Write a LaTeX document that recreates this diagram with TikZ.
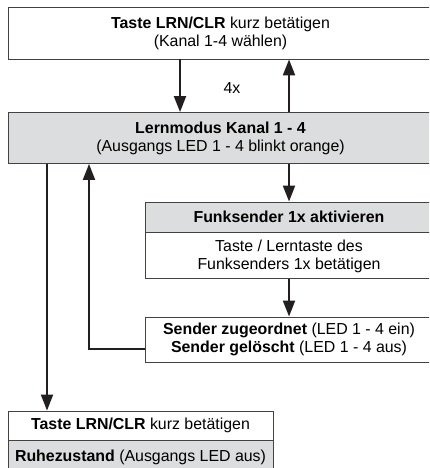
\documentclass[tikz,border=0pt]{standalone}
\usepackage{fontspec}
\setmainfont{Liberation Sans}
\usetikzlibrary{arrows.meta}
\definecolor{boxgrau}{RGB}{220,221,222}
\definecolor{linie}{RGB}{35,31,32}
\tikzset{
  kasten/.style={draw=linie!85, line width=0.9bp, align=center, inner sep=0pt,
    font=\fontsize{15.9bp}{18bp}\selectfont},
  grau/.style={kasten, fill=boxgrau},
  pfeil/.style={draw=linie, line width=2.2bp, -{Triangle[length=16bp, width=12bp]}}
}
\begin{document}
\begin{tikzpicture}[x=1bp, y=-1bp]

    \useasboundingbox (0,0) rectangle (429,468);
    \clip (0,0) rectangle (429,468);

    % boxes
    \node[kasten, minimum width=425bp, minimum height=52bp] (taste) at (220.5,33)
        {\textbf{Taste LRN/CLR} kurz betätigen\\(Kanal 1-4 wählen)};
    \node[grau, minimum width=425bp, minimum height=51bp] (lern) at (220.5,138)
        {\textbf{Lernmodus Kanal 1 - 4}\\(Ausgangs LED 1 - 4 blinkt orange)};
    \node[grau, minimum width=288bp, minimum height=30bp] (funk) at (289,217)
        {\textbf{Funksender 1x aktivieren}};
    \node[kasten, minimum width=288bp, minimum height=46bp, anchor=north] (funktaste) at (funk.south)
        {Taste / Lerntaste des\\Funksenders 1x betätigen};
    \node[kasten, minimum width=288bp, minimum height=45bp] (sender) at (289,339.5)
        {\textbf{Sender zugeordnet} (LED 1 - 4 ein)\\\textbf{Sender gelöscht} (LED 1 - 4 aus)};
    \node[kasten, minimum width=265bp, minimum height=29bp] (ruhetaste) at (140.5,425.5)
        {\textbf{Taste LRN/CLR} kurz betätigen};
    \node[grau, minimum width=265bp, minimum height=32bp, anchor=north] (ruhe) at (ruhetaste.south)
        {\textbf{Ruhezustand} (Ausgangs LED aus)};

    \node[font=\fontsize{15.9bp}{18bp}\selectfont] (vier) at (232,88) {4x};

    % connectors
    \coordinate (runter) at (180,0);
    \coordinate (hoch) at (289,0);
    \coordinate (links) at (47,0);
    \coordinate (knick) at (89,349);

    \draw[pfeil] (taste.south -| runter) -- (lern.north -| runter);
    \draw[pfeil] (lern.north -| hoch) -- (taste.south -| hoch);
    \draw[pfeil] (lern.south -| funk.north) -- (funk.north);
    \draw[pfeil] (funktaste.south) -- (sender.north);
    \draw[pfeil] (sender.west |- knick) -- (knick) -- (lern.south -| knick);
    \draw[pfeil] (lern.south -| links) -- (ruhetaste.north -| links);

\end{tikzpicture}
\end{document}
